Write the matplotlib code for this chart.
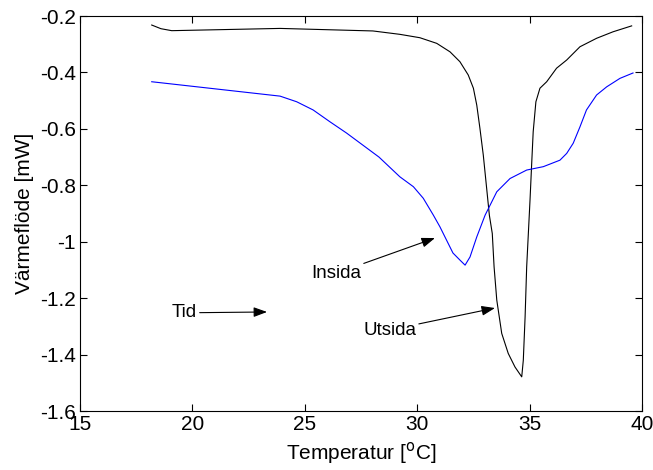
import matplotlib
matplotlib.use("Agg")
import matplotlib.pyplot as plt

plt.rcParams['font.family'] = ['Liberation Sans', 'DejaVu Sans']
plt.rcParams['axes.unicode_minus'] = False

# Utsida (black)
ut_T = [18.19, 18.6, 19.08, 23.9, 28.03, 29.23, 30.12, 30.87, 31.46, 31.9, 32.27, 32.5,
        32.65, 32.79, 32.94, 33.09, 33.21, 33.34, 33.42, 33.54, 33.76, 34.05, 34.35, 34.65,
        34.72, 34.8, 34.87, 34.97, 35.02, 35.09, 35.16, 35.28, 35.46, 35.76, 36.2, 36.65,
        37.24, 37.98, 38.71, 39.54]
ut_Q = [-0.232, -0.245, -0.252, -0.244, -0.253, -0.265, -0.277, -0.297, -0.327, -0.362, -0.409, -0.456,
        -0.516, -0.598, -0.693, -0.811, -0.906, -0.971, -1.089, -1.207, -1.325, -1.396, -1.444, -1.479,
        -1.42, -1.266, -1.089, -0.93, -0.85, -0.728, -0.61, -0.504, -0.456, -0.433, -0.385, -0.356,
        -0.309, -0.279, -0.256, -0.235]

# Insida (blue)
in_T = [18.19, 23.9, 24.64, 25.37, 26.12, 26.86, 28.3, 29.23, 29.83, 30.27, 30.72, 31.01,
        31.59, 31.9, 32.13, 32.35, 32.65, 33.02, 33.54, 34.13, 34.87, 35.61, 36.35, 36.65,
        36.94, 37.24, 37.53, 37.98, 38.43, 39.02, 39.6]
in_Q = [-0.433, -0.484, -0.504, -0.533, -0.575, -0.615, -0.70, -0.77, -0.805, -0.846, -0.906, -0.947,
        -1.04, -1.065, -1.083, -1.054, -0.983, -0.906, -0.823, -0.776, -0.746, -0.734, -0.711, -0.687,
        -0.651, -0.593, -0.533, -0.48, -0.451, -0.421, -0.402]

xticks = [15, 20, 25, 30, 35, 40]
yticks = [-1.6, -1.4, -1.2, -1.0, -0.8, -0.6, -0.4, -0.2]
yticklabels = ['-1.6', '-1.4', '-1.2', '-1', '-0.8', '-0.6', '-0.4', '-0.2']

fig = plt.figure(figsize=(6.53, 4.70), dpi=100)
ax = fig.add_axes([80/653, 1-411/470, (642-80)/653, (411-16)/470])

ax.plot(ut_T, ut_Q, color='k', lw=0.8, solid_joinstyle='round')
ax.plot(in_T, in_Q, color='#0000ff', lw=0.8, solid_joinstyle='round')

ax.set_xlim(15, 40)
ax.set_ylim(-1.6, -0.2)
ax.set_xticks(xticks)
ax.set_xticklabels([str(t) for t in xticks])
ax.set_yticks(yticks)
ax.set_yticklabels(yticklabels)
ax.tick_params(direction='in', top=True, right=True, length=5, width=0.8,
               labelsize=15, pad=3)
for s in ax.spines.values():
    s.set_linewidth(0.8)

ax.set_xlabel('Temperatur [$^{\\mathrm{o}}$C]', fontsize=15, labelpad=4)
ax.set_ylabel('Värmeflöde [mW]', fontsize=15, labelpad=4)

arrow = dict(arrowstyle='-|>,head_length=0.6,head_width=0.22', color='k', lw=0.8,
             shrinkA=0, shrinkB=0)
ax.annotate('Insida', xy=(30.79, -0.987), xytext=(27.5, -1.112), ha='right', va='center',
            fontsize=13.5, arrowprops=arrow)
ax.annotate('Utsida', xy=(33.46, -1.235), xytext=(29.95, -1.313), ha='right', va='center',
            fontsize=13.5, arrowprops=arrow)
ax.annotate('Tid', xy=(23.32, -1.249), xytext=(20.2, -1.252), ha='right', va='center',
            fontsize=13.5, arrowprops=arrow)

fig.savefig('out.png', dpi=100)
